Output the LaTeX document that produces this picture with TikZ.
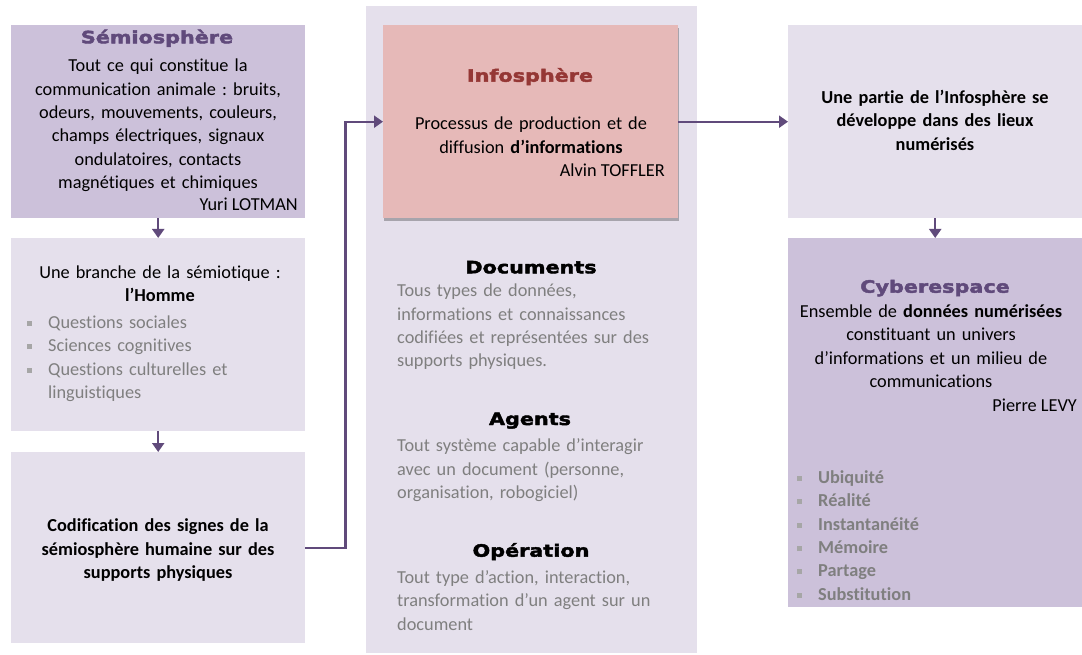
\documentclass[tikz,border=0pt]{standalone}
\usepackage{fontspec}
\setmainfont[Ligatures=NoCommon]{Carlito}
\newfontfamily\heavyfont[FakeStretch=1.22,FakeBold=2.5]{DejaVu Sans}
\usetikzlibrary{arrows.meta,positioning,shadows}
\frenchspacing

\definecolor{boxdark}{HTML}{CCC1DA}
\definecolor{boxlight}{HTML}{E5E0EC}
\definecolor{boxred}{HTML}{E6B9B8}
\definecolor{titlepurple}{HTML}{604A7B}
\definecolor{titlered}{HTML}{953735}
\definecolor{linkpurple}{HTML}{604A7B}
\definecolor{textgrey}{HTML}{7F7F7F}
\definecolor{bulletgrey}{HTML}{A6A6A6}

\newcommand{\bodysize}{\fontsize{18.3}{23.4}\selectfont}
\newcommand{\heavysize}{\heavyfont\bfseries\fontsize{17}{20}\selectfont}
\newcommand{\sqbullet}{\makebox[21pt][l]{\textcolor{bulletgrey}{\rule[2.5pt]{5pt}{5pt}}}}

\tikzset{
  darkbox/.style={fill=boxdark, anchor=north west, inner sep=0},
  lightbox/.style={fill=boxlight, anchor=north west, inner sep=0},
  infobox/.style={fill=boxred, anchor=north west, inner sep=0,
    drop shadow={shadow xshift=0.5pt, shadow yshift=-3pt, opacity=0.4, fill=black!70}},
  heading/.style={inner sep=0, anchor=base, font=\heavysize},
  body/.style={inner sep=0, anchor=base, align=center, text width=300, font=\bodysize},
  author/.style={inner sep=0, anchor=base east, font=\bodysize},
  greytext/.style={inner sep=0, anchor=base west, align=left, text width=#1, text=textgrey, font=\bodysize},
  link/.style={draw=linkpurple, line width=2.2pt, -{Triangle[width=12pt,length=9pt]}}
}

\begin{document}
\begin{tikzpicture}[x=1pt,y=-1pt]
\useasboundingbox (0,0) rectangle (1082,655);
% boxes
\node[darkbox, minimum width=294, minimum height=193] (semio) at (11,25) {};
\node[lightbox, minimum width=294, minimum height=193] (branche) at (11,238) {};
\node[lightbox, minimum width=294, minimum height=191] (codif) at (11,452) {};
\node[lightbox, minimum width=331, minimum height=647] (infoback) at (366,6) {};
\node[infobox, minimum width=295, minimum height=193] (info) at (383,25) {};
\node[lightbox, minimum width=294, minimum height=193] (partie) at (788,25) {};
\node[darkbox, minimum width=294, minimum height=369] (cyber) at (788,238) {};

% arrows
\draw[link] (semio.south) -- (branche.north);
\draw[link] (branche.south) -- (codif.north);
\draw[link] (codif.east) -- ++(40,0) |- (info.west);
\draw[link] (info.east) -- (partie.west);
\draw[link] (partie.south) -- (cyber.north);

% left column
\node[heading, text=titlepurple] (semiotitle) at (157,43.3) {Sémiosphère};
\node[body] (semiotext) at (158,71.7) {Tout ce qui constitue la\\communication animale : bruits,\\odeurs, mouvements, couleurs,\\champs électriques, signaux\\ondulatoires, contacts\\magnétiques et chimiques};
\node[author] (semioauthor) at (298,211) {Yuri LOTMAN};
\node[body] (branchetitle) at (160,278.3) {Une branche de la sémiotique :\\\textbf{l’Homme}};
\node[greytext=270] (branchelist) at (27,328.3) {\sqbullet Questions sociales\\\sqbullet Sciences cognitives\\\sqbullet Questions culturelles et\\\hspace*{21pt}linguistiques};
\node[body, font=\bodysize\bfseries] (codiftext) at (158,531.7) {Codification des signes de la\\sémiosphère humaine sur des\\supports physiques};

% centre column
\node[heading, text=titlered] (infotitle) at (530,81.7) {Infosphère};
\node[body] (infotext) at (531,130) {Processus de production et de\\diffusion \textbf{d’informations}};
\node[author] (infoauthor) at (665,176.7) {Alvin TOFFLER};
\node[heading] (doctitle) at (531,273.3) {Documents};
\node[greytext=290] (doctext) at (397,296.7) {Tous types de données,\\informations et connaissances\\codifiées et représentées sur des\\supports physiques.};
\node[heading] (agenttitle) at (530,425) {Agents};
\node[greytext=290] (agenttext) at (397,451.7) {Tout système capable d’interagir\\avec un document (personne,\\organisation, robogiciel)};
\node[heading] (optitle) at (531,556.7) {Opération};
\node[greytext=290] (optext) at (397,583.3) {Tout type d’action, interaction,\\transformation d’un agent sur un\\document};

% right column
\node[body, font=\bodysize\bfseries] (partietext) at (935,103.3) {Une partie de l’Infosphère se\\développe dans des lieux\\numérisés};
\node[heading, text=titlepurple] (cybertitle) at (935,292.7) {Cyberespace};
\node[body] (cybertext) at (931,317.3) {Ensemble de \textbf{données numérisées}\\constituant un univers\\d’informations et un milieu de\\communications};
\node[author] (cyberauthor) at (1077,411) {Pierre LEVY};
\node[greytext=250, font=\bodysize\bfseries] (cyberlist) at (797,483.3) {\sqbullet Ubiquité\\\sqbullet Réalité\\\sqbullet Instantanéité\\\sqbullet Mémoire\\\sqbullet Partage\\\sqbullet Substitution};
\end{tikzpicture}
\end{document}
